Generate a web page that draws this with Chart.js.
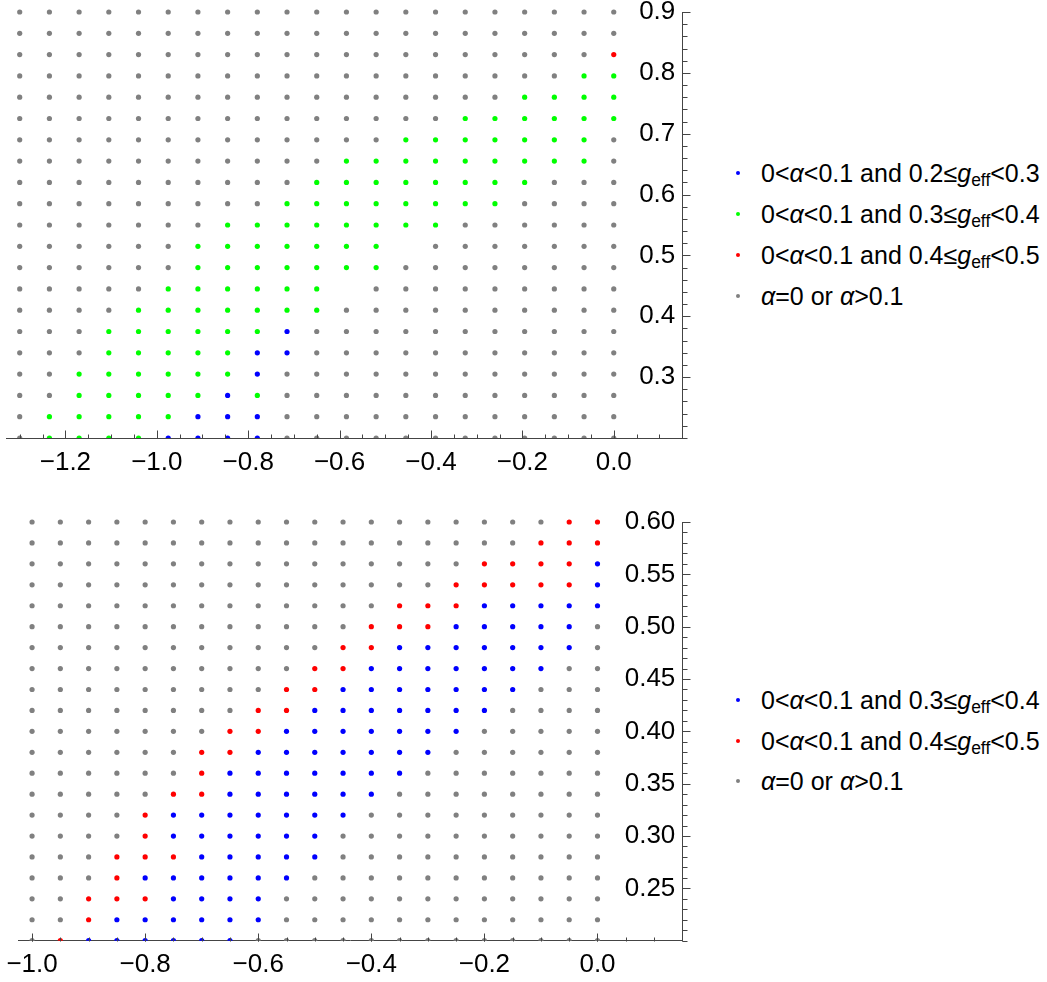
<!DOCTYPE html>
<html>
<head>
<meta charset="utf-8">
<title>Parameter scan</title>
<script src="https://cdn.jsdelivr.net/npm/chart.js@4.4.1/dist/chart.umd.min.js"></script>
<style>
  html, body { margin:0; padding:0; background:#fff; }
  body { position:relative; width:1047px; height:982px; overflow:hidden; font-family:"Liberation Sans", Arial, sans-serif; }
  canvas { position:absolute; left:0; }
  #c1 { top:0; }
  #c2 { top:491px; }
  .lg-item { position:absolute; left:731px; height:30px; display:flex; align-items:center; white-space:nowrap; font-size:25px; color:#000; line-height:30px; }
  .lg-dot { width:4px; height:4px; border-radius:50%; margin-left:5px; margin-right:21px; flex:none; }
  .lg-item i { font-style:italic; }
  .lg-item sub { font-size:70%; vertical-align:-0.22em; line-height:0; }
</style>
</head>
<body>
<canvas id="c1" width="700" height="491"></canvas>
<canvas id="c2" width="700" height="491"></canvas>
<div id="legend1"></div>
<div id="legend2"></div>
<script>
// ---------- top panel ----------
const topX = [-1.3, -1.235, -1.17, -1.105, -1.04, -0.975, -0.91, -0.845, -0.78, -0.715, -0.65,
              -0.585, -0.52, -0.455, -0.39, -0.325, -0.26, -0.195, -0.13, -0.065, 0.0];
const topY = [0.9, 0.865, 0.83, 0.795, 0.76, 0.725, 0.69, 0.655, 0.62, 0.585, 0.55,
              0.515, 0.48, 0.445, 0.41, 0.375, 0.34, 0.305, 0.27, 0.235, 0.2];
// class of each grid point, rows from y=0.9 (top) down to y=0.2; columns follow topX
// B blue, G green, R red, g gray, . no point
const topGrid = [
  "ggggg ggggg ggggg ggggg g",
  "ggggg ggggg ggggg ggggg g",
  "ggggg ggggg ggggg ggggg R",
  "ggggg ggggg ggggg ggggG G",
  "ggggg ggggg ggggg ggGGG G",
  "ggggg ggggg ggggg GGGGG G",
  "ggggg ggggg gggGG GGGGG g",
  "ggggg ggggg gGGGG GGGGG g",
  "ggggg ggggg GGGGG GGGgg g",
  "ggggg ggggG GGGGG GGggg g",
  "ggggg ggGGG GGGGG ggggg g",
  "ggggg gGGGG GGG.g ggggg g",
  "ggggg gGGGG GGGgg ggggg g",
  "ggggg GGGGG G.ggg ggggg g",
  "ggggG GGGGG Ggggg ggggg g",
  "gggGG GGGGB ggggg ggggg g",
  "gggGG GGGBB ggggg ggggg g",
  "ggGGG GGGBg ggggg ggggg g",
  "ggGGG GGBGg ggggg ggggg g",
  "gGGGG GBBBg ggggg ggggg g",
  "gGGGG BBBBg ggggg ggggg g"
];
const topXTicks = [-1.2, -1.0, -0.8, -0.6, -0.4, -0.2, 0.0];
const topYTicks = [0.3, 0.4, 0.5, 0.6, 0.7, 0.8, 0.9];
const topCodes  = ['B', 'G', 'R', 'g'];
const topLabels = ['0<α<0.1 and 0.2≤g_eff<0.3', '0<α<0.1 and 0.3≤g_eff<0.4',
                   '0<α<0.1 and 0.4≤g_eff<0.5', 'α=0 or α>0.1'];

// ---------- bottom panel ----------
const botX = [-1.0, -0.95, -0.9, -0.85, -0.8, -0.75, -0.7, -0.65, -0.6, -0.55, -0.5,
              -0.45, -0.4, -0.35, -0.3, -0.25, -0.2, -0.15, -0.1, -0.05, 0.0];
const botY = [0.6, 0.58, 0.56, 0.54, 0.52, 0.5, 0.48, 0.46, 0.44, 0.42, 0.4,
              0.38, 0.36, 0.34, 0.32, 0.3, 0.28, 0.26, 0.24, 0.22, 0.2];
const botGrid = [
  "ggggg ggggg ggggg ggggR R",
  "ggggg ggggg ggggg gggRR R",
  "ggggg ggggg ggggg gRRRR B",
  "ggggg ggggg ggggg RRRRR B",
  "ggggg ggggg gggRR RBBBB B",
  "ggggg ggggg ggRRR BBBBB g",
  "ggggg ggggg gRRBB BBBBB g",
  "ggggg ggggg RRBBB BBBBg g",
  "ggggg ggggR RBBBB BBBgg g",
  "ggggg gggRR BBBBB BBggg g",
  "ggggg ggRRB BBBBB Bgggg g",
  "ggggg gRRBB BBBBB ggggg g",
  "ggggg gRBBB BBBBg ggggg g",
  "ggggg RRBBB BBBgg ggggg g",
  "ggggR BBBBB BBggg ggggg g",
  "ggggR BBBBB Bgggg ggggg g",
  "gggRR RBBBB Bgggg ggggg g",
  "gggRB BBBBB ggggg ggggg g",
  "ggRRR BBBBg ggggg ggggg g",
  "ggRBB BBBBg ggggg ggggg g",
  "gRBBB BBBgg ggggg ggggg g"
];
const botXTicks = [-1.0, -0.8, -0.6, -0.4, -0.2, 0.0];
const botYTicks = [0.25, 0.30, 0.35, 0.40, 0.45, 0.50, 0.55, 0.60];
const botCodes  = ['B', 'R', 'g'];
const botLabels = ['0<α<0.1 and 0.3≤g_eff<0.4', '0<α<0.1 and 0.4≤g_eff<0.5', 'α=0 or α>0.1'];

const colorOf = { B: '#0000ff', G: '#00ff00', R: '#ff0000', g: '#808080' };

function pointsFor(code, xs, ys, grid) {
  const pts = [];
  grid.forEach((row, j) => {
    row.replace(/ /g, '').split('').forEach((c, i) => {
      if (c === code) pts.push({ x: xs[i], y: ys[j] });
    });
  });
  return pts;
}

const fmt = (v, d) => (v < 0 ? '\u2212' : '') + Math.abs(v).toFixed(d);

const tickMarks = {
  id: 'tickMarks',
  afterDraw(chart, args, o) {
    const { ctx } = chart;
    const x = chart.scales.x, y = chart.scales.y;
    const base = Math.round(x.top) + 0.5;
    const axisX = Math.round(y.left) + 0.5;
    ctx.save();
    ctx.strokeStyle = '#444';
    ctx.lineWidth = 1;
    const vline = (v, len) => {
      const px = Math.round(x.getPixelForValue(v)) + 0.5;
      ctx.beginPath(); ctx.moveTo(px, base); ctx.lineTo(px, base - len); ctx.stroke();
    };
    const hline = (v, len) => {
      const py = Math.round(y.getPixelForValue(v)) + 0.5;
      ctx.beginPath(); ctx.moveTo(axisX, py); ctx.lineTo(axisX + len, py); ctx.stroke();
    };
    const steps = (min, max, step) => {
      const out = [];
      for (let k = Math.ceil(min / step - 1e-6); k * step <= max + 1e-9; k++) out.push(k * step);
      return out;
    };
    steps(x.min, x.max, o.xMinor).forEach(v => vline(v, 4));
    o.xMajor.forEach(v => vline(v, 8));
    steps(y.min, y.max, o.yMinor).forEach(v => hline(v, 5));
    o.yMajor.forEach(v => hline(v, 8));
    ctx.restore();
  }
};

function makeChart(id, cfg) {
  const datasets = cfg.codes.map((c, k) => ({
    label: cfg.labels[k],
    data: pointsFor(c, cfg.xs, cfg.ys, cfg.grid),
    backgroundColor: colorOf[c],
    borderWidth: 0,
    pointRadius: 2.6,
    pointHoverRadius: 2.6,
    clip: { left: false, top: false, right: false, bottom: 0 }
  }));
  const font = { family: '"Liberation Sans", Arial, sans-serif', size: 26 };
  return new Chart(document.getElementById(id), {
    type: 'scatter',
    data: { datasets },
    options: {
      responsive: false,
      animation: false,
      devicePixelRatio: 1,
      layout: { padding: cfg.padding },
      plugins: {
        legend: { display: false },
        tooltip: { enabled: false },
        tickMarks: { xMajor: cfg.xTicks, yMajor: cfg.yTicks, xMinor: cfg.xMinor, yMinor: cfg.yMinor }
      },
      scales: {
        x: {
          type: 'linear', position: 'bottom', min: cfg.xMin, max: cfg.xMax, z: 1,
          grid: { display: false, drawTicks: false },
          border: { display: true, color: '#444', width: 1 },
          ticks: { font, color: '#000', padding: 9, maxRotation: 0, autoSkip: false,
                   callback: v => fmt(v, 1) },
          afterBuildTicks: s => { s.ticks = cfg.xTicks.map(v => ({ value: v })); },
          afterFit: s => { s.height = 40; s.paddingLeft = 0; s.paddingRight = 0; }
        },
        y: {
          type: 'linear', position: 'right', min: cfg.yMin, max: cfg.yMax, z: 1,
          grid: { display: false, drawTicks: false },
          border: { display: true, color: '#444', width: 1 },
          ticks: { font, color: '#000', mirror: true, padding: -7, autoSkip: false,
                   callback: v => fmt(v, cfg.yDigits) },
          afterBuildTicks: s => { s.ticks = cfg.yTicks.map(v => ({ value: v })); },
          afterFit: s => { s.width = 0; s.paddingTop = 0; s.paddingBottom = 0; }
        }
      }
    },
    plugins: [tickMarks]
  });
}

function htmlLabel(t) {
  return t.replace(/</g, '&lt;').replace(/>/g, '&gt;')
          .replace(/α/g, '<i>α</i>')
          .replace(/g_eff/g, '<i>g</i><sub>eff</sub>');
}

function buildLegend(chart, holderId, centers) {
  const holder = document.getElementById(holderId);
  chart.data.datasets.forEach((ds, k) => {
    const item = document.createElement('div');
    item.className = 'lg-item';
    item.style.top = (centers[k] - 15) + 'px';
    const dot = document.createElement('span');
    dot.className = 'lg-dot';
    dot.style.background = ds.backgroundColor;
    const txt = document.createElement('span');
    txt.innerHTML = htmlLabel(ds.label);
    item.appendChild(dot); item.appendChild(txt);
    holder.appendChild(item);
  });
}

const chartTop = makeChart('c1', {
  xs: topX, ys: topY, grid: topGrid, codes: topCodes, labels: topLabels,
  xTicks: topXTicks, yTicks: topYTicks, xMinor: 0.05, yMinor: 0.02, yDigits: 1,
  xMin: -1.33, xMax: 0.15, yMin: 0.2, yMax: 0.9,
  padding: { left: 6, top: 12, right: 17.7, bottom: 13 }
});
const chartBot = makeChart('c2', {
  xs: botX, ys: botY, grid: botGrid, codes: botCodes, labels: botLabels,
  xTicks: botXTicks, yTicks: botYTicks, xMinor: 0.05, yMinor: 0.01, yDigits: 2,
  xMin: -1.024, xMax: 0.15, yMin: 0.2, yMax: 0.6,
  padding: { left: 18.5, top: 31, right: 17.7, bottom: 1.3 }
});

buildLegend(chartTop, 'legend1', [172.5, 213.5, 254.5, 295.5]);
buildLegend(chartBot, 'legend2', [700, 741, 781]);
</script>
</body>
</html>
